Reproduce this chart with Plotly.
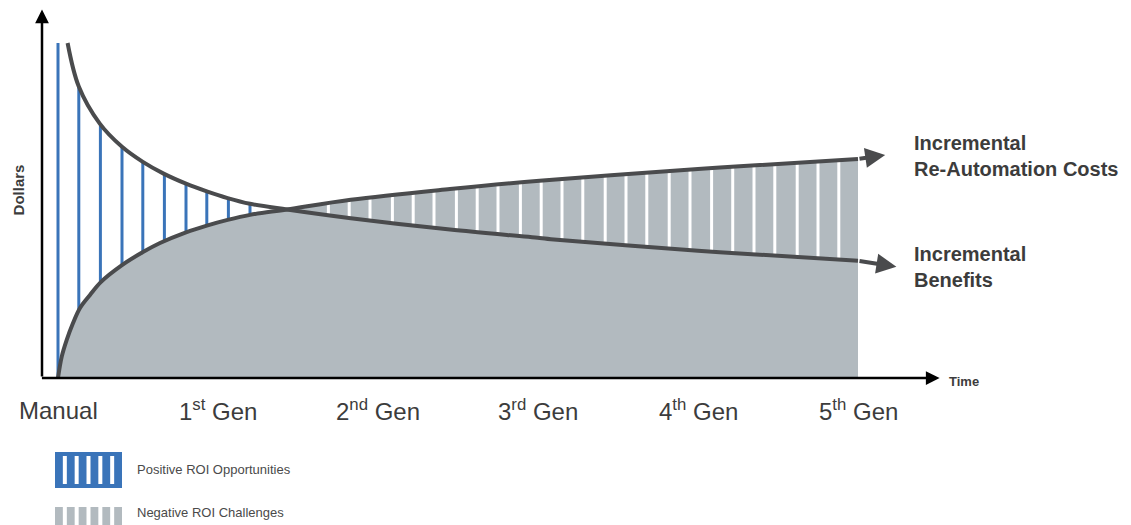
import numpy as np
import plotly.graph_objects as go

# ---- data (time in generations, dollars in arbitrary units) ----
gen_pos = [0, 1, 2, 3, 4, 5]
gen_labels = ["Manual", "1<sup>st</sup> Gen", "2<sup>nd</sup> Gen", "3<sup>rd</sup> Gen",
              "4<sup>th</sup> Gen", "5<sup>th</sup> Gen"]

benefit_x = [0.06, 0.13, 0.26, 0.40, 0.53, 0.66, 0.80, 0.93, 1.06, 1.20, 1.43, 1.83, 2.45, 3.01, 3.08, 4.00, 4.26, 5.00]
benefit_y = [100, 87, 76, 69, 64.5, 61, 58, 55.7, 53.7, 52, 50.3, 47.7, 44.3, 41.8, 41.4, 38, 37.2, 35]
benefit_tip = [5.24, 33.2]

cost_x = [0.0, 0.023, 0.054, 0.094, 0.1375, 0.20, 0.269, 0.40, 0.531, 0.6375, 0.80, 0.93, 1.06, 1.20, 1.43,
          1.83, 2.45, 3.01, 4.00, 4.26, 5.00]
cost_y = [0, 6.3, 11.3, 16.4, 20.9, 24.8, 28.7, 33.7, 37.6, 40.3, 43.5, 45.5, 47.2, 48.7, 50.3,
          53.2, 56.4, 58.9, 62.4, 63.2, 65.4]
cost_tip = [5.17, 66.6]

positive_x = [0.0, 0.13, 0.265, 0.40, 0.53, 0.665, 0.80, 0.93, 1.065, 1.20]
negative_x = [1.69, 1.82, 1.95, 2.09, 2.22, 2.35, 2.49, 2.62, 2.75, 2.89, 3.02, 3.15, 3.28,
              3.42, 3.55, 3.68, 3.82, 3.95, 4.085, 4.217, 4.35, 4.48, 4.62, 4.75, 4.88]

legend_items = ["Positive ROI Opportunities", "Negative ROI Challenges"]
curve_labels = [["Incremental", "Re-Automation Costs"], ["Incremental", "Benefits"]]

# ---- styles ----
BLUE = "#3a74b9"
GRAY = "#b2babf"
CURVE = "#4a4b4d"
TXT = "#3c3c3c"
W, H = 1131, 525


def stripes(xs):
    lo = np.interp(xs, cost_x, cost_y)
    hi = np.interp(xs, benefit_x, benefit_y)
    sx, sy = [], []
    for x, a, b in zip(xs, lo, hi):
        sx += [x, x, None]
        sy += [float(a), float(b), None]
    return sx, sy


fig = go.Figure()

# gray area under the cost curve
fig.add_trace(go.Scatter(x=cost_x, y=cost_y, mode="lines", line=dict(width=0, shape="spline"),
                         fill="tozeroy", fillcolor=GRAY, hoverinfo="skip", showlegend=False))

px_, py_ = stripes(positive_x)
fig.add_trace(go.Scatter(x=px_, y=py_, mode="lines", line=dict(color=BLUE, width=3),
                         hoverinfo="skip", showlegend=False))
nx_, ny_ = stripes(negative_x)
fig.add_trace(go.Scatter(x=nx_, y=ny_, mode="lines", line=dict(color="white", width=3),
                         hoverinfo="skip", showlegend=False))

fig.add_trace(go.Scatter(x=cost_x, y=cost_y, mode="lines", line=dict(color=CURVE, width=4, shape="spline"),
                         hoverinfo="skip", showlegend=False))
fig.add_trace(go.Scatter(x=benefit_x, y=benefit_y, mode="lines", line=dict(color=CURVE, width=4, shape="spline"),
                         hoverinfo="skip", showlegend=False))

ann = []
# curve arrowheads
ann.append(dict(x=cost_tip[0], y=cost_tip[1], ax=cost_x[-1], ay=cost_y[-1], axref="x", ayref="y",
                xref="x", yref="y", text="", showarrow=True, arrowhead=2, arrowsize=1,
                arrowwidth=4, arrowcolor=CURVE))
ann.append(dict(x=benefit_tip[0], y=benefit_tip[1], ax=benefit_x[-1], ay=benefit_y[-1], axref="x", ayref="y",
                xref="x", yref="y", text="", showarrow=True, arrowhead=2, arrowsize=1,
                arrowwidth=4, arrowcolor=CURVE))
# axes with arrows
ann.append(dict(x=-0.1, y=110, ax=-0.1, ay=0, axref="x", ayref="y", xref="x", yref="y", text="",
                showarrow=True, arrowhead=2, arrowsize=1.1, arrowwidth=2.5, arrowcolor="black"))
ann.append(dict(x=5.51, y=0, ax=-0.11, ay=0, axref="x", ayref="y", xref="x", yref="y", text="",
                showarrow=True, arrowhead=2, arrowsize=1.1, arrowwidth=2.5, arrowcolor="black"))

ann.append(dict(x=5.555, y=-1.0, xref="x", yref="y", text="<b>Time</b>", showarrow=False,
                xanchor="left", yanchor="middle", font=dict(size=13, color=TXT)))
ann.append(dict(x=-0.25, y=56, xref="x", yref="y", text="<b>Dollars</b>", showarrow=False,
                textangle=-90, font=dict(size=15, color=TXT)))

for gx, gl in zip(gen_pos, gen_labels):
    ann.append(dict(x=gx, y=-9.6, xref="x", yref="y", text=gl, showarrow=False,
                    xanchor="center", yanchor="middle", font=dict(size=24, color=TXT)))

for lines, ly in zip(curve_labels, [66.3, 33.0]):
    ann.append(dict(x=5.335, y=ly, xref="x", yref="y", text="<br>".join("<b>%s</b>" % s for s in lines),
                    showarrow=False, xanchor="left", yanchor="middle", align="left",
                    font=dict(size=20, color=TXT)))

# legend (drawn in paper space)
shapes = []
def P(x, y):
    return x / W, 1 - y / H

for label, ty in zip(legend_items, [469, 512]):
    ann.append(dict(x=135 / W, y=1 - ty / H, xref="paper", yref="paper", text=label,
                    showarrow=False, xanchor="left", yanchor="middle", font=dict(size=13, color="#4a4a4a")))
x0, x1 = 55, 122
bw, gw = (x1 - x0 - 5 * 4) / 6, 4
a, b = P(x0, 452); c, d = P(x1, 488)
shapes.append(dict(type="rect", xref="paper", yref="paper", x0=a, y0=d, x1=c, y1=b,
                   fillcolor=BLUE, line=dict(width=0), layer="above"))
for k in range(5):
    gx0 = x0 + (k + 1) * bw + k * gw
    a, b = P(gx0, 456); c, d = P(gx0 + gw, 484)
    shapes.append(dict(type="rect", xref="paper", yref="paper", x0=a, y0=d, x1=c, y1=b,
                       fillcolor="white", line=dict(width=0), layer="above"))
for k in range(6):
    bx0 = x0 + k * (bw + gw)
    a, b = P(bx0, 507); c, d = P(bx0 + bw, 527)
    shapes.append(dict(type="rect", xref="paper", yref="paper", x0=a, y0=d, x1=c, y1=b,
                       fillcolor=GRAY, line=dict(width=0), layer="above"))

# pixel mapping: x px = 58 + 160*x ; y px = 378 - 3.35*y
fig.update_layout(
    width=W, height=H, margin=dict(l=0, r=0, t=0, b=0),
    paper_bgcolor="white", plot_bgcolor="white",
    font=dict(family="Liberation Sans, Arial, sans-serif"),
    xaxis=dict(range=[-58 / 160, (W - 58) / 160], visible=False, fixedrange=True),
    yaxis=dict(range=[(378 - H) / 3.35, 378 / 3.35], visible=False, fixedrange=True),
    annotations=ann, shapes=shapes, showlegend=False,
)

fig.write_html("out.html", config={"displayModeBar": False},
               post_script="document.body.style.margin='0';document.body.style.overflow='hidden';")
